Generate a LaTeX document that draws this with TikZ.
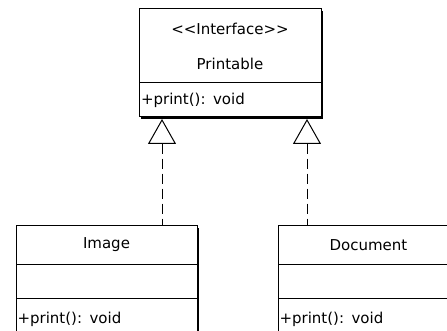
\documentclass[tikz,border=0pt]{standalone}
\usepackage{fontspec}
\setmainfont{DejaVu Sans}
\usetikzlibrary{arrows.meta,positioning,backgrounds,calc}

\begin{document}
\begin{tikzpicture}[x=1pt, y=1pt,
  part/.style={draw, line width=1pt, fill=white, inner sep=0pt, outer sep=0pt,
    minimum width=182pt, text width=178pt, font=\fontsize{15}{18}\selectfont},
  head/.style={part, align=center},
  ops/.style={part, align=left, minimum height=34pt},
  realize/.style={line width=1pt, dash pattern=on 10pt off 5pt,
    {Triangle[open, length=25pt, width=28pt, line width=1pt]}-}]
  \useasboundingbox (0,0) rectangle (447,-331);
  \clip (0,0) rectangle (447,-331);
  % interface
  \node[head, minimum height=74pt, anchor=north west] (ptitle) at (139,-9) {<{}<Interface>{}>\\[17pt]Printable};
  \node[ops, below=0pt of ptitle] (pops) {+print(): void};
  % classes
  \node[head, minimum height=38pt, minimum width=181pt, anchor=north west] (itop) at (16,-226) {Image};
  \node[part, minimum height=34pt, minimum width=181pt, below=0pt of itop] (iattr) {};
  \node[ops, minimum height=42pt, minimum width=181pt, below=0pt of iattr] (iops) {+print(): void};
  \node[head, minimum height=38pt, minimum width=181pt, anchor=north west] (dtop) at (278,-226) {Document};
  \node[part, minimum height=34pt, minimum width=181pt, below=0pt of dtop] (dattr) {};
  \node[ops, minimum height=42pt, minimum width=181pt, below=0pt of dattr] (dops) {+print(): void};
  % shadows
  \begin{scope}[on background layer]
    \fill ([shift={(2,-2)}]ptitle.north west) rectangle ([shift={(2,-2)}]pops.south east);
    \fill ([shift={(2,-2)}]itop.north west) rectangle ([shift={(2,-2)}]iops.south east);
    \fill ([shift={(2,-2)}]dtop.north west) rectangle ([shift={(2,-2)}]dops.south east);
  \end{scope}
  % realizations
  \coordinate (iport) at ($(itop.north west)+(146,0)$);
  \coordinate (dport) at ($(dtop.north west)+(29,0)$);
  \draw[realize] ($(iport |- pops.south)+(0,-2)$) -- (iport);
  \draw[realize] ($(dport |- pops.south)+(0,-2)$) -- (dport);
\end{tikzpicture}
\end{document}
